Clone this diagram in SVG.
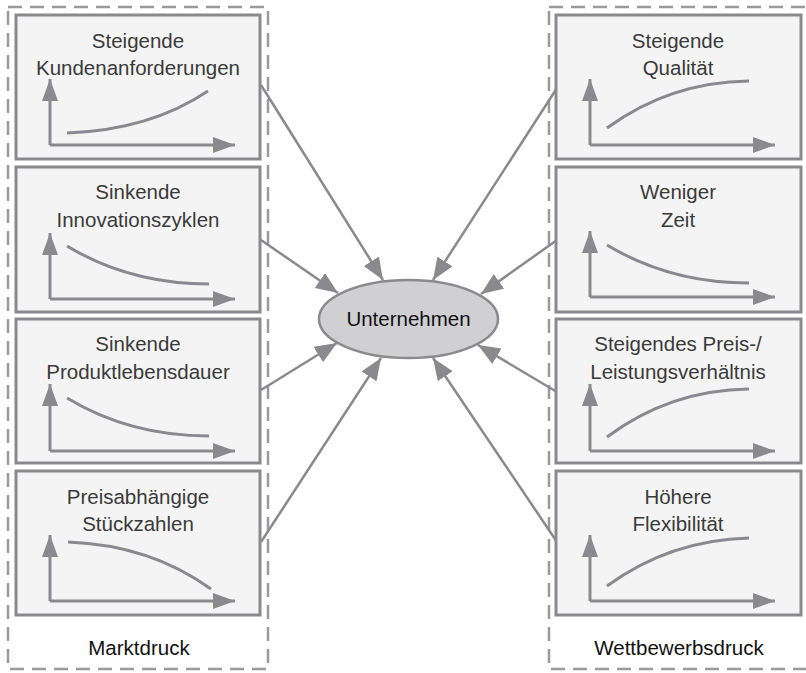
<svg xmlns="http://www.w3.org/2000/svg" width="806" height="673" viewBox="0 0 806 673">
<defs>
<marker id="ax" markerUnits="userSpaceOnUse" markerWidth="24" markerHeight="18" refX="22" refY="8" orient="auto"><path d="M0,0 L22,8 L0,16 Z" fill="#8a8a8e"/></marker>
<marker id="ar" markerUnits="userSpaceOnUse" markerWidth="24" markerHeight="20" refX="22" refY="9" orient="auto"><path d="M0,0 L22,9 L0,18 Z" fill="#8a8a8e"/></marker>
</defs>
<style>
.grp{fill:none;stroke:#9a9a9a;stroke-width:2.5;stroke-dasharray:14 8}
.box{fill:#f4f4f4;stroke:#8a8a8e;stroke-width:3}
.axis{fill:none;stroke:#8a8a8e;stroke-width:3;marker-end:url(#ax)}
.crv{fill:none;stroke:#8a8a8e;stroke-width:3}
.t{font-family:"Liberation Sans",Arial,sans-serif;font-size:20.5px;fill:#3a3a3a;text-anchor:middle}
.lb{font-family:"Liberation Sans",Arial,sans-serif;font-size:20.5px;fill:#111;text-anchor:middle}
.con{stroke:#8a8a8e;stroke-width:2.5;fill:none;marker-end:url(#ar)}
</style>
<rect width="806" height="673" fill="#fff"/>
<g id="marktdruck">
<rect class="grp" x="8" y="7" width="260" height="662"/>
<text class="lb" x="139" y="655">Marktdruck</text>
</g>
<g id="wettbewerbsdruck">
<rect class="grp" x="549" y="7" width="260" height="662"/>
<text class="lb" x="679" y="655">Wettbewerbsdruck</text>
</g>
<g id="connectors">
<line class="con" x1="261" y1="85" x2="383" y2="280"/>
<line class="con" x1="261" y1="240" x2="338" y2="293"/>
<line class="con" x1="261" y1="390" x2="337" y2="343"/>
<line class="con" x1="261" y1="542" x2="381" y2="358"/>
<line class="con" x1="557" y1="88" x2="433" y2="280"/>
<line class="con" x1="557" y1="240" x2="481" y2="294"/>
<line class="con" x1="557" y1="392" x2="478" y2="345"/>
<line class="con" x1="557" y1="542" x2="433" y2="358"/>
</g>
<g id="n1">
<rect class="box" x="16" y="15" width="244" height="144"/>
<text class="t" x="138" y="48">Steigende</text>
<text class="t" x="138" y="75">Kundenanforderungen</text>
<path class="axis" d="M50,145 V79"/><path class="axis" d="M50,145 H235"/>
<path class="crv" d="M67,133 Q150,130 208,91"/>
</g>
<g id="n2">
<rect class="box" x="16" y="167" width="244" height="145"/>
<text class="t" x="138" y="199">Sinkende</text>
<text class="t" x="138" y="227">Innovationszyklen</text>
<path class="axis" d="M50,299 V233"/><path class="axis" d="M50,299 H235"/>
<path class="crv" d="M67,246 C110,272 160,284 209,284"/>
</g>
<g id="n3">
<rect class="box" x="16" y="319" width="244" height="144"/>
<text class="t" x="138" y="351">Sinkende</text>
<text class="t" x="138" y="379">Produktlebensdauer</text>
<path class="axis" d="M50,451 V384"/><path class="axis" d="M50,451 H235"/>
<path class="crv" d="M67,398 C110,424 160,436 209,436"/>
</g>
<g id="n4">
<rect class="box" x="16" y="471" width="244" height="144"/>
<text class="t" x="138" y="504">Preisabhängige</text>
<text class="t" x="138" y="531">Stückzahlen</text>
<path class="axis" d="M50,601 V535"/><path class="axis" d="M50,601 H235"/>
<path class="crv" d="M68,542 Q150,545 211,589"/>
</g>
<g id="n5">
<rect class="box" x="556" y="15" width="245" height="144"/>
<text class="t" x="678" y="48">Steigende</text>
<text class="t" x="678" y="75">Qualität</text>
<path class="axis" d="M590,145 V79"/><path class="axis" d="M590,145 H775"/>
<path class="crv" d="M607,128 Q670,82 749,81"/>
</g>
<g id="n6">
<rect class="box" x="556" y="167" width="245" height="145"/>
<text class="t" x="678" y="199">Weniger</text>
<text class="t" x="678" y="227">Zeit</text>
<path class="axis" d="M590,297 V231"/><path class="axis" d="M590,297 H775"/>
<path class="crv" d="M607,245 C650,271 700,283 749,283"/>
</g>
<g id="n7">
<rect class="box" x="556" y="319" width="245" height="144"/>
<text class="t" x="678" y="351">Steigendes Preis-/</text>
<text class="t" x="678" y="379">Leistungsverhältnis</text>
<path class="axis" d="M590,451 V384"/><path class="axis" d="M590,451 H775"/>
<path class="crv" d="M607,437 Q670,390 749,389"/>
</g>
<g id="n8">
<rect class="box" x="556" y="471" width="245" height="144"/>
<text class="t" x="678" y="504">Höhere</text>
<text class="t" x="678" y="531">Flexibilität</text>
<path class="axis" d="M590,601 V535"/><path class="axis" d="M590,601 H775"/>
<path class="crv" d="M607,586 Q670,540 749,538"/>
</g>
<g id="unternehmen">
<ellipse cx="408.5" cy="319" rx="89.5" ry="39" fill="#d0d0d2" stroke="#8a8a8e" stroke-width="2.5"/>
<text class="lb" x="408.5" y="326">Unternehmen</text>
</g>
</svg>
